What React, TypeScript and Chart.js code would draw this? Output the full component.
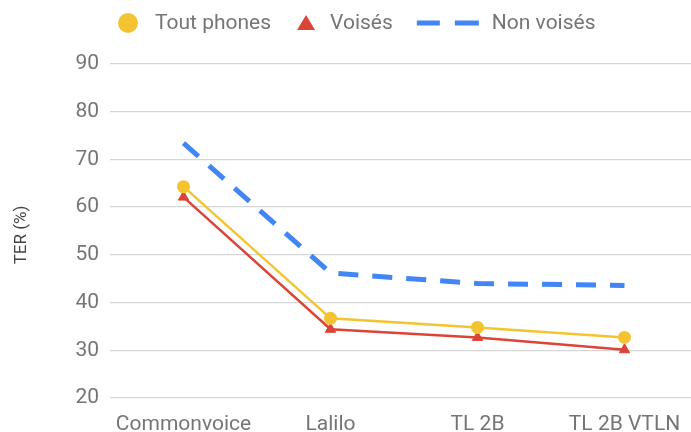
import React, { useEffect, useRef } from "react";
import { Chart, registerables } from "chart.js";

Chart.register(...registerables);

const categories = ["Commonvoice", "Lalilo", "TL 2B", "TL 2B VTLN"];
const toutPhones = [64.3, 36.7, 34.8, 32.7];
const voises = [62.1, 34.4, 32.7, 30.1];
const nonVoises = [73.4, 46.2, 44.0, 43.6];
const yTicks = [20, 30, 40, 50, 60, 70, 80, 90];
const yTitle = "TER (%)";

const YELLOW = "#F4C430";
const RED = "#DB4437";
const BLUE = "#4285F4";
const FONT = "Roboto, 'Noto Sans', sans-serif";
const TEXT = "#757575";

const legendPlugin = {
  id: "customLegend",
  afterDraw(chart: any) {
    const ctx = chart.ctx;
    const ds = chart.data.datasets;
    ctx.save();
    ctx.font = `21px ${FONT}`;
    ctx.textBaseline = "middle";
    const cy = 23;
    let x = 118;
    // item 1: circle
    ctx.beginPath();
    ctx.fillStyle = ds[0].borderColor;
    ctx.arc(x + 10, cy, 10, 0, Math.PI * 2);
    ctx.fill();
    x += 20 + 17;
    ctx.fillStyle = TEXT;
    ctx.fillText(ds[0].label, x, cy + 1);
    x += ctx.measureText(ds[0].label).width + 26;
    // item 2: triangle
    ctx.beginPath();
    ctx.fillStyle = ds[1].borderColor;
    ctx.moveTo(x + 9, cy - 8);
    ctx.lineTo(x + 18, cy + 7);
    ctx.lineTo(x, cy + 7);
    ctx.closePath();
    ctx.fill();
    x += 18 + 15;
    ctx.fillStyle = TEXT;
    ctx.fillText(ds[1].label, x, cy + 1);
    x += ctx.measureText(ds[1].label).width + 24;
    // item 3: dashes
    ctx.strokeStyle = ds[2].borderColor;
    ctx.lineWidth = 5;
    ctx.beginPath();
    ctx.moveTo(x, cy);
    ctx.lineTo(x + 23, cy);
    ctx.moveTo(x + 38, cy);
    ctx.lineTo(x + 62, cy);
    ctx.stroke();
    x += 62 + 13;
    ctx.fillText(ds[2].label, x, cy + 1);

    // y axis title
    ctx.translate(22, 235);
    ctx.rotate(-Math.PI / 2);
    ctx.font = `17px ${FONT}`;
    ctx.fillStyle = "#444444";
    ctx.textAlign = "center";
    ctx.textBaseline = "middle";
    ctx.fillText(yTitle, 0, 0);
    ctx.restore();
  },
};

export default function App() {
  const ref = useRef<HTMLCanvasElement | null>(null);
  useEffect(() => {
    if (!ref.current) return;
    const chart = new Chart(ref.current, {
      type: "line",
      data: {
        labels: categories,
        datasets: [
          {
            label: "Tout phones",
            data: toutPhones,
            borderColor: YELLOW,
            backgroundColor: YELLOW,
            borderWidth: 2.5,
            pointStyle: "circle",
            pointRadius: 6.5,
            pointBorderWidth: 0,
            tension: 0,
            order: 1,
          },
          {
            label: "Voisés",
            data: voises,
            borderColor: RED,
            backgroundColor: RED,
            borderWidth: 2.5,
            pointStyle: "triangle",
            pointRadius: 6,
            pointBorderWidth: 1,
            tension: 0,
            order: 2,
          },
          {
            label: "Non voisés",
            data: nonVoises,
            borderColor: BLUE,
            backgroundColor: BLUE,
            borderWidth: 5,
            borderDash: [20, 14],
            pointRadius: 0,
            tension: 0,
            order: 3,
          },
        ],
      },
      options: {
        responsive: false,
        animation: false,
        layout: { padding: { top: 64, right: 5, left: 0, bottom: 0 } },
        plugins: { legend: { display: false }, tooltip: { enabled: false } },
        scales: {
          x: {
            offset: true,
            grid: { display: false, drawTicks: false },
            border: { display: false },
            ticks: {
              color: TEXT,
              font: { family: FONT, size: 21 },
              padding: 14,
              maxRotation: 0,
              autoSkip: false,
            },
            afterFit: (s: any) => {
              s.height = 34;
            },
          },
          y: {
            min: 20,
            max: 90,
            afterBuildTicks: (s: any) => {
              s.ticks = yTicks.map((v) => ({ value: v }));
            },
            grid: { color: "#d6d6d6", lineWidth: 1.3, drawTicks: false },
            border: { display: false },
            ticks: {
              color: TEXT,
              font: { family: FONT, size: 21 },
              padding: 11,
            },
            afterFit: (s: any) => {
              s.width = 110;
            },
          },
        },
      },
      plugins: [legendPlugin],
    } as any);
    return () => chart.destroy();
  }, []);
  return (
    <div style={{ position: "fixed", left: 0, top: 0, width: 705, height: 432, background: "#fff" }}>
      <canvas ref={ref} width={705} height={432} style={{ width: 705, height: 432 }} />
    </div>
  );
}
